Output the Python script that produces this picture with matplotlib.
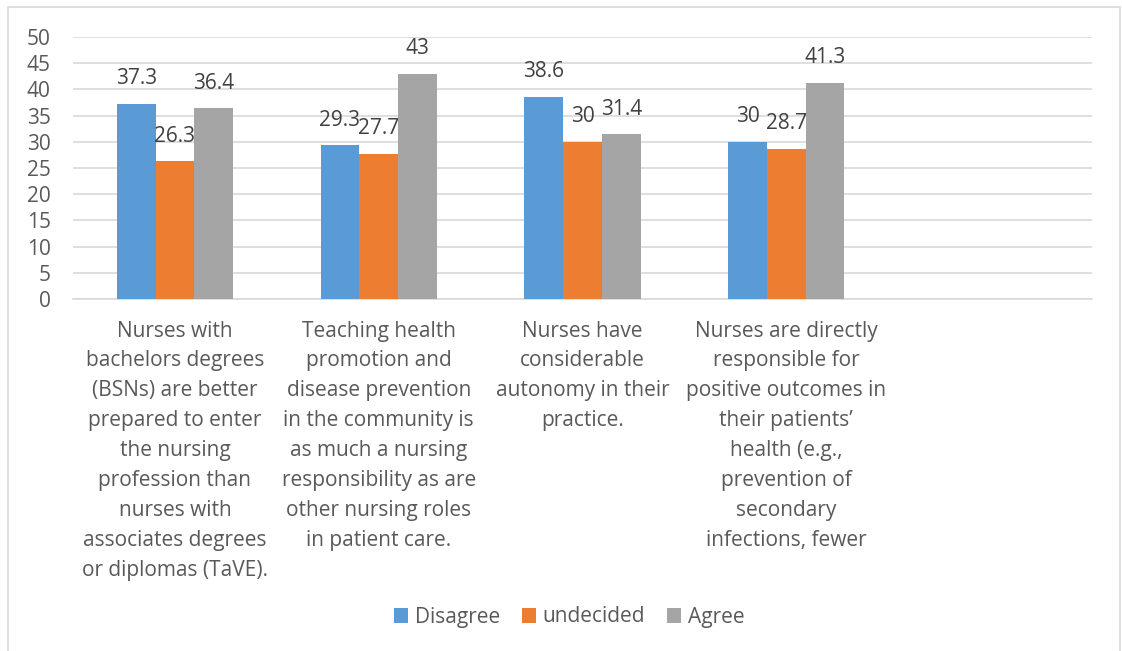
import numpy as np
import matplotlib.pyplot as plt
from matplotlib.patches import Rectangle

# dados
categorias = [
    "Nurses with\nbachelors degrees\n(BSNs) are better\nprepared to enter\nthe nursing\nprofession than\nnurses with\nassociates degrees\nor diplomas (TaVE).",
    "Teaching health\npromotion and\ndisease prevention\nin the community is\nas much a nursing\nresponsibility as are\nother nursing roles\nin patient care.",
    "Nurses have\nconsiderable\nautonomy in their\npractice.",
    "Nurses are directly\nresponsible for\npositive outcomes in\ntheir patients’\nhealth (e.g.,\nprevention of\nsecondary\ninfections, fewer",
    "",
]
disagree = [37.3, 29.3, 38.6, 30.0]
undecided = [26.3, 27.7, 30.0, 28.7]
agree = [36.4, 43.0, 31.4, 41.3]
series = ["Disagree", "undecided", "Agree"]
cores = ["#5b9bd5", "#ed7d31", "#a5a5a5"]
txt = "#595959"

plt.rcParams['font.family'] = ['Open Sans', 'DejaVu Sans']
fs = 15

fig = plt.figure(figsize=(11.22, 6.51), dpi=100)
W, H = 1122, 651
ax = fig.add_axes([73 / W, 1 - 299 / H, 1019 / W, 262 / H])

# moldura do gráfico
fig.patches.append(Rectangle((8 / W, -0.05), 1112 / W, 1.05 - 7 / H, transform=fig.transFigure,
                             fill=False, edgecolor="#d9d9d9", linewidth=1.2))

x = np.arange(len(categorias))
w = 0.19
for k, (vals, nome, cor) in enumerate(zip([disagree, undecided, agree], series, cores)):
    pos = x[:len(vals)] + (k - 1) * w
    bars = ax.bar(pos, vals, width=w, color=cor, label=nome, zorder=3)
    for b, v in zip(bars, vals):
        ax.annotate(f"{v:g}", (b.get_x() + b.get_width() / 2, v), xytext=(0, 18),
                    textcoords="offset points", ha="center", va="center",
                    fontsize=fs, color="#404040")

ax.set_xlim(-0.5, len(categorias) - 0.5)
ax.set_ylim(0, 50)
ax.set_yticks(range(0, 51, 5))
ax.yaxis.grid(True, color="#d9d9d9", linewidth=1.2, zorder=0)
ax.set_axisbelow(True)
for s in ["top", "right", "left"]:
    ax.spines[s].set_visible(False)
ax.spines["bottom"].set_color("#d9d9d9")
ax.spines["bottom"].set_linewidth(1.2)
ax.tick_params(axis="both", length=0, labelsize=fs, colors=txt)
ax.tick_params(axis="y", pad=16)
ax.set_xticks(x)
ax.set_xticklabels(categorias, va="top", linespacing=1.555)
ax.tick_params(axis="x", pad=15.5)

ax.legend(loc="center", bbox_to_anchor=(569 / W, 1 - 617 / H), bbox_transform=fig.transFigure,
          ncol=3, frameon=False, fontsize=fs, labelcolor=txt, handlelength=0.7,
          handleheight=0.7, handletextpad=0.3, columnspacing=1.05)

plt.savefig("out.png", dpi=100)
